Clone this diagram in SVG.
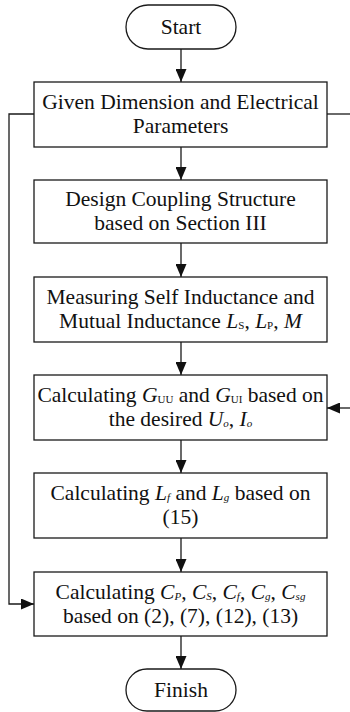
<svg xmlns="http://www.w3.org/2000/svg" width="350" height="712" viewBox="0 0 350 712">
  <style>
    .box { fill: #fff; stroke: #1a1a1a; stroke-width: 1.3; }
    .line { fill: none; stroke: #1a1a1a; stroke-width: 1.3; }
    .v { font-style: italic; }
    .s { font-size: 11px; }
    .si { font-size: 11px; font-style: italic; }
  </style>
  <defs>
    <marker id="arrow" markerWidth="13" markerHeight="11" refX="13" refY="5.5" orient="auto" markerUnits="userSpaceOnUse">
      <path d="M0,0 L13,5.5 L0,11 Z" fill="#111"/>
    </marker>
  </defs>

  <rect width="350" height="712" fill="#fff"/>

  <!-- connectors -->
  <g id="connectors">
    <line class="line" x1="181" y1="49" x2="181" y2="82" marker-end="url(#arrow)"/>
    <line class="line" x1="181" y1="147" x2="181" y2="180" marker-end="url(#arrow)"/>
    <line class="line" x1="181" y1="243" x2="181" y2="277" marker-end="url(#arrow)"/>
    <line class="line" x1="181" y1="342" x2="181" y2="375" marker-end="url(#arrow)"/>
    <line class="line" x1="181" y1="440" x2="181" y2="473" marker-end="url(#arrow)"/>
    <line class="line" x1="181" y1="538" x2="181" y2="572" marker-end="url(#arrow)"/>
    <line class="line" x1="181" y1="636" x2="181" y2="669" marker-end="url(#arrow)"/>
    <!-- bypass from parameters to capacitor calculation -->
    <polyline class="line" points="34,114 9,114 9,604 34,604" marker-end="url(#arrow)"/>
    <!-- outgoing branch to the right -->
    <line class="line" x1="327" y1="114" x2="350" y2="114"/>
    <!-- incoming branch from the right -->
    <line class="line" x1="350" y1="408" x2="327" y2="408" marker-end="url(#arrow)"/>
  </g>

  <g font-family="Liberation Serif, serif" font-size="21.5" fill="#111" text-anchor="middle">
  <g id="start">
    <rect class="box" x="126" y="5" width="110" height="44" rx="22" ry="22"/>
    <text x="181" y="34">Start</text>
  </g>

  <g id="given-parameters">
    <rect class="box" x="34" y="82" width="293" height="65"/>
    <text x="180.5" y="109">Given Dimension and Electrical</text>
    <text x="180.5" y="133">Parameters</text>
  </g>

  <g id="design-coupling">
    <rect class="box" x="34" y="180" width="293" height="63"/>
    <text x="180.5" y="206">Design Coupling Structure</text>
    <text x="180.5" y="230">based on Section III</text>
  </g>

  <g id="measure-inductance">
    <rect class="box" x="34" y="277" width="293" height="65"/>
    <text x="180.5" y="304">Measuring Self Inductance and</text>
    <text x="180.5" y="328">Mutual Inductance <tspan class="v">L</tspan><tspan class="s" dy="1">S</tspan><tspan dy="-1">, </tspan><tspan class="v">L</tspan><tspan class="s" dy="1">P</tspan><tspan dy="-1">, </tspan><tspan class="v">M</tspan></text>
  </g>

  <g id="calc-gain">
    <rect class="box" x="34" y="375" width="293" height="65"/>
    <text x="180.5" y="402">Calculating <tspan class="v">G</tspan><tspan class="s" dy="1">UU</tspan><tspan dy="-1"> and </tspan><tspan class="v">G</tspan><tspan class="s" dy="1">UI</tspan><tspan dy="-1"> based on</tspan></text>
    <text x="180.5" y="426">the desired <tspan class="v">U</tspan><tspan class="si" dy="1">o</tspan><tspan dy="-1">, </tspan><tspan class="v">I</tspan><tspan class="si" dy="1">o</tspan></text>
  </g>

  <g id="calc-inductors">
    <rect class="box" x="34" y="473" width="293" height="65"/>
    <text x="180.5" y="500">Calculating <tspan class="v">L</tspan><tspan class="si" dy="1">f</tspan><tspan dy="-1"> and </tspan><tspan class="v">L</tspan><tspan class="si" dy="1">g</tspan><tspan dy="-1"> based on</tspan></text>
    <text x="180.5" y="524">(15)</text>
  </g>

  <g id="calc-capacitors">
    <rect class="box" x="34" y="572" width="293" height="64"/>
    <text x="180.5" y="598.5">Calculating <tspan class="v">C</tspan><tspan class="si" dy="1">P</tspan><tspan dy="-1">, </tspan><tspan class="v">C</tspan><tspan class="si" dy="1">S</tspan><tspan dy="-1">, </tspan><tspan class="v">C</tspan><tspan class="si" dy="1">f</tspan><tspan dy="-1">, </tspan><tspan class="v">C</tspan><tspan class="si" dy="1">g</tspan><tspan dy="-1">, </tspan><tspan class="v">C</tspan><tspan class="si" dy="1">sg</tspan></text>
    <text x="180.5" y="622.5">based on (2), (7), (12), (13)</text>
  </g>

  <g id="finish">
    <rect class="box" x="126" y="669" width="110" height="42" rx="21" ry="21"/>
    <text x="181" y="697">Finish</text>
  </g>
  </g>
</svg>
